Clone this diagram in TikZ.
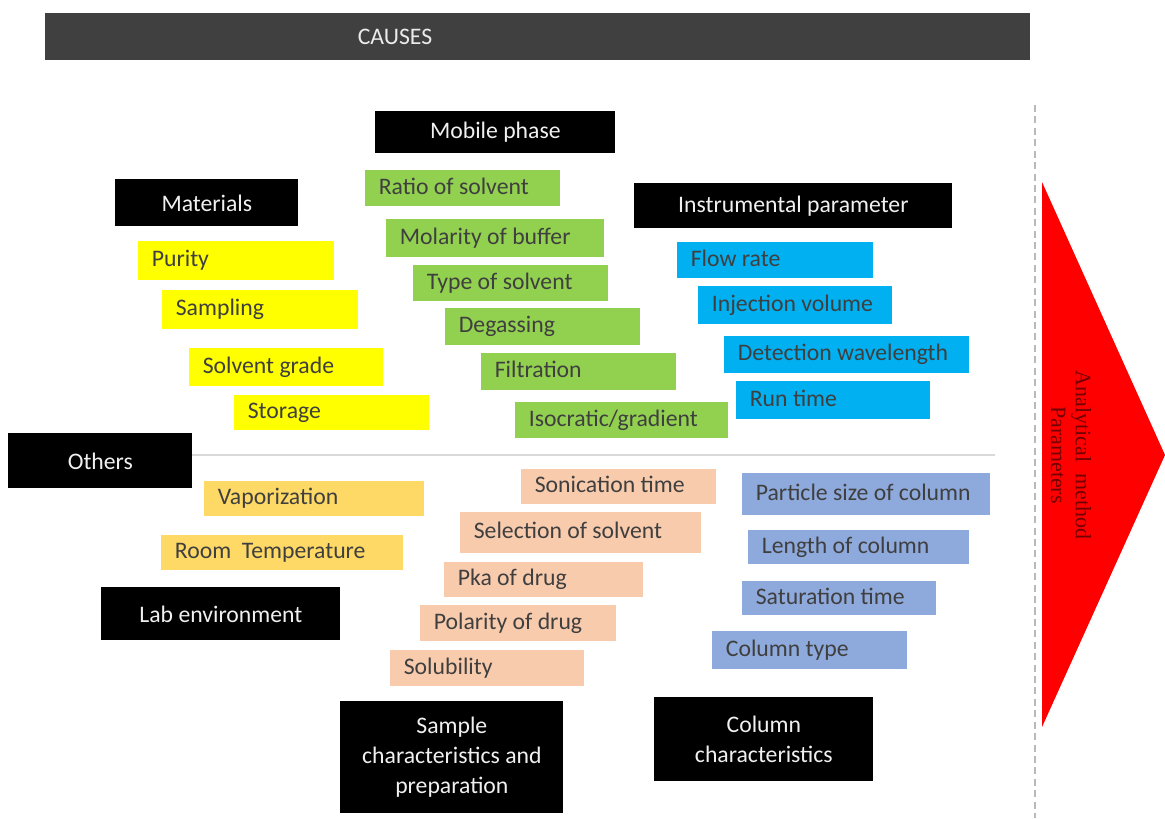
\documentclass[tikz,border=0pt]{standalone}
\usepackage{fontspec}
\setmainfont{Carlito}
\newfontfamily\arrowfont{Liberation Serif}
\definecolor{barcol}{HTML}{404040}
\definecolor{yelcol}{HTML}{FFFF00}
\definecolor{grncol}{HTML}{92D050}
\definecolor{blucol}{HTML}{00B0F0}
\definecolor{orgcol}{HTML}{FFD966}
\definecolor{pchcol}{HTML}{F8CBAD}
\definecolor{colcol}{HTML}{8EA9DB}
\definecolor{txtcol}{HTML}{3F3F3F}
\definecolor{arrcol}{HTML}{FF0000}
\tikzset{
	head/.style={fill=black, text=white!94!black, inner sep=0pt, align=center, anchor=north west},
	item/.style={fill=#1, inner sep=0pt, anchor=north west},
	itemtext/.style={text=txtcol, anchor=west, inner sep=0pt, text height=9.6pt, text depth=2.9pt},
}
% boxes given by their pixel corners
\newcommand{\headbox}[6]{\node[head, minimum width={(#4-#2)*0.02cm}, minimum height={(#5-#3)*0.02cm}] (#1) at (#2,#3) {#6};}
\newcommand{\causebox}[7]{\node[item=#2, minimum width={(#5-#3)*0.02cm}, minimum height={(#6-#4)*0.02cm}] (#1) at (#3,#4) {};
	\node[itemtext] (#1-txt) at ([xshift=0.27cm]#1.west) {#7};}
\begin{document}
\begin{tikzpicture}[x=0.02cm, y=-0.02cm, font=\fontsize{13.5}{16}\selectfont, line join=round]
	\useasboundingbox (0,0) rectangle (1165,818);
	% top bar
	\fill[barcol] (45,13) rectangle (1030,60);
	\node[text=white!92!black] (causes) at (395,37) {CAUSES};
	% effect side
	\draw[gray!55, line width=1.6pt, dash pattern=on 4pt off 2.5pt] (1035,105) -- (1035,818);
	\fill[arrcol] (1042,182) -- (1165,455) -- (1042,727) -- cycle;
	\node[rotate=-90, text=red!45!black, align=center, font=\arrowfont\fontsize{12.5}{14}\selectfont] (effect) at (1071,455) {Analytical\ \ method\\ Parameters};
	\draw[gray!30, line width=1pt] (192,455) -- (995,455);
	% main causes
	\headbox{mobile}{375}{111}{615}{153}{Mobile phase}
	\headbox{materials}{115}{179}{298}{226}{Materials}
	\headbox{instrument}{634}{183}{952}{228}{Instrumental parameter}
	\headbox{others}{8}{433}{192}{488}{Others}
	\headbox{lab}{101}{587}{340}{640}{Lab environment}
	\headbox{sample}{340}{701}{563}{813}{Sample\\[1pt] characteristics and\\[1pt] preparation}
	\headbox{column}{654}{697}{873}{781}{Column\\[1pt] characteristics}
	% materials
	\causebox{purity}{yelcol}{138}{241}{334}{280}{Purity}
	\causebox{sampling}{yelcol}{162}{290}{358}{329}{Sampling}
	\causebox{grade}{yelcol}{189}{348}{383}{386}{Solvent grade}
	\causebox{storage}{yelcol}{234}{395}{429}{430}{Storage}
	% mobile phase
	\causebox{ratio}{grncol}{365}{170}{560}{206}{Ratio of solvent}
	\causebox{molarity}{grncol}{386}{219}{604}{257}{Molarity of buffer}
	\causebox{type}{grncol}{413}{265}{608}{301}{Type of solvent}
	\causebox{degas}{grncol}{445}{308}{640}{345}{Degassing}
	\causebox{filtr}{grncol}{481}{353}{676}{390}{Filtration}
	\causebox{isocr}{grncol}{515}{402}{728}{438}{Isocratic/gradient}
	% instrumental parameter
	\causebox{flow}{blucol}{677}{242}{873}{278}{Flow rate}
	\causebox{inject}{blucol}{698}{286}{892}{324}{Injection volume}
	\causebox{detect}{blucol}{724}{336}{969}{373}{Detection wavelength}
	\causebox{runtime}{blucol}{736}{381}{930}{419}{Run time}
	% lab environment
	\causebox{vapor}{orgcol}{204}{481}{424}{516}{Vaporization}
	\causebox{roomt}{orgcol}{161}{535}{403}{570}{Room\ \ Temperature}
	% sample
	\causebox{sonic}{pchcol}{521}{469}{716}{504}{Sonication time}
	\causebox{select}{pchcol}{460}{512}{701}{553}{Selection of solvent}
	\causebox{pka}{pchcol}{444}{562}{643}{597}{Pka of drug}
	\causebox{polar}{pchcol}{420}{605}{616}{641}{Polarity of drug}
	\causebox{solub}{pchcol}{390}{650}{584}{686}{Solubility}
	% column
	\causebox{particle}{colcol}{742}{473}{990}{515}{Particle size of column}
	\causebox{length}{colcol}{748}{530}{969}{564}{Length of column}
	\causebox{satur}{colcol}{742}{581}{936}{615}{Saturation time}
	\causebox{coltype}{colcol}{712}{631}{907}{669}{Column type}
\end{tikzpicture}
\end{document}
